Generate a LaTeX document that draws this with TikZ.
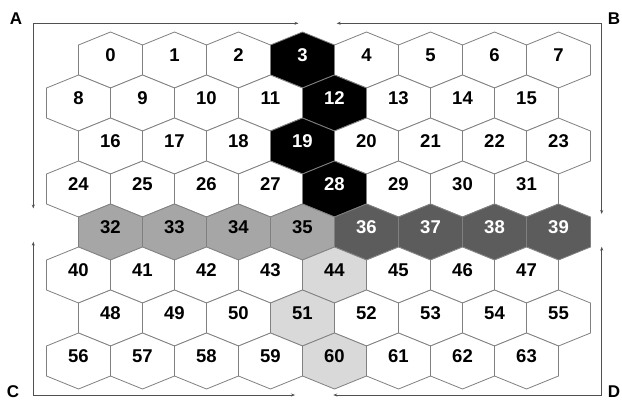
\documentclass[tikz,border=0pt]{standalone}
\usepackage{fontspec}
\setmainfont{Liberation Sans}
\usetikzlibrary{arrows.meta}
\definecolor{hexline}{HTML}{808080}
\definecolor{axisline}{HTML}{505050}
\definecolor{darkcell}{HTML}{5C5C5C}
\definecolor{midcell}{HTML}{A6A6A6}
\definecolor{lightcell}{HTML}{D9D9D9}
\begin{document}
\begin{tikzpicture}[x=1pt,y=-1pt,
  hexcell/.style={draw=hexline,line width=0.8pt,line join=miter},
  num/.style={font=\bfseries\fontsize{18.5}{18.5}\selectfont,inner sep=0pt},
  axisarrow/.style={draw=axisline,line width=0.8pt,{Stealth[length=4pt,width=3pt]}-{Stealth[length=4pt,width=3pt]}},
  cornerlabel/.style={font=\bfseries\fontsize{17}{17}\selectfont,inner sep=0pt}]
\useasboundingbox (0,0) rectangle (622,402);
\fill[white] (0,0) rectangle (622,402);
\foreach \r in {0,...,7}{
  \foreach \c in {0,...,7}{
    \pgfmathtruncatemacro\n{8*\r+\c}
    \pgfmathsetmacro\cx{110.5+64*\c-32*mod(\r,2)}
    \pgfmathsetmacro\cy{60+43*\r}
    \def\cf{white}\def\ct{black}
    \ifnum\n=3 \def\cf{black}\def\ct{white}\fi
    \ifnum\n=12 \def\cf{black}\def\ct{white}\fi
    \ifnum\n=19 \def\cf{black}\def\ct{white}\fi
    \ifnum\n=28 \def\cf{black}\def\ct{white}\fi
    \ifnum\n>31 \ifnum\n<36 \def\cf{midcell}\fi\fi
    \ifnum\n>35 \ifnum\n<40 \def\cf{darkcell}\def\ct{white}\fi\fi
    \ifnum\n=44 \def\cf{lightcell}\fi
    \ifnum\n=51 \def\cf{lightcell}\fi
    \ifnum\n=60 \def\cf{lightcell}\fi
    \filldraw[hexcell,fill=\cf] (\cx,\cy-28) -- (\cx+32,\cy-15) -- (\cx+32,\cy+15)
      -- (\cx,\cy+28) -- (\cx-32,\cy+15) -- (\cx-32,\cy-15) -- cycle;
    \node[num,text=\ct] (h\n) at (\cx,\cy-5) {\n};
  }
}
% axes
\coordinate (acorner) at (33.3,23.3);
\coordinate (aright) at (298.5,23.3);
\coordinate (adown) at (33.3,208.5);
\coordinate (bcorner) at (601.7,23.3);
\coordinate (bleft) at (336.7,23.3);
\coordinate (bdown) at (601.7,214);
\coordinate (ccorner) at (33.3,395);
\coordinate (cup) at (33.3,241.7);
\coordinate (cright) at (295,395);
\coordinate (dcorner) at (601.7,395);
\coordinate (dup) at (601.7,246.7);
\coordinate (dleft) at (333.3,395);
\draw[axisarrow] (adown) -- (acorner) -- (aright);
\draw[axisarrow] (bleft) -- (bcorner) -- (bdown);
\draw[axisarrow] (cup) -- (ccorner) -- (cright);
\draw[axisarrow] (dup) -- (dcorner) -- (dleft);
\node[cornerlabel] (la) at (16,18.5) {A};
\node[cornerlabel] (lb) at (614,19) {B};
\node[cornerlabel] (lc) at (13,392) {C};
\node[cornerlabel] (ld) at (614,392) {D};
\end{tikzpicture}
\end{document}
